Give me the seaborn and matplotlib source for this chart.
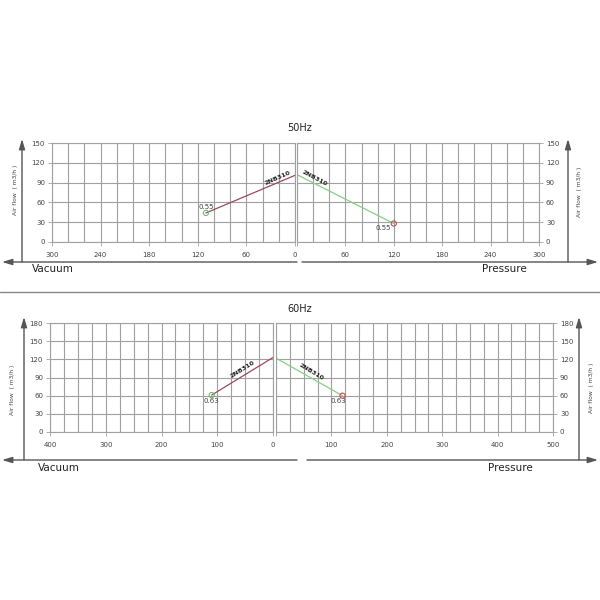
import matplotlib
matplotlib.use("Agg")
import matplotlib.pyplot as plt
import seaborn as sns
import pandas as pd
import numpy as np

# ---------------- data ----------------
model = "2NB310"
hz50_vac_x = [0, 110]
hz50_vac_y = [101, 44]
hz50_pre_x = [0, 120]
hz50_pre_y = [102, 28]
hz50_kw = "0.55"

hz60_vac_x = [0, 110]
hz60_vac_y = [123, 61]
hz60_pre_x = [0, 120]
hz60_pre_y = [122, 60]
hz60_kw = "0.63"

sns.set_theme(style="white")
plt.rcParams['font.family'] = ['DejaVu Sans']

W = H = 600
fig = plt.figure(figsize=(6, 6), dpi=100)

def frac(x0, y0, x1, y1):
    return [x0 / W, 1 - y1 / H, (x1 - x0) / W, (y1 - y0) / H]

GRID = "#a0a0a0"
TXT = "#444444"
VAC_LINE = "#9b4a5a"
PRE_LINE = "#86cf86"

def style_axes(ax, xmax, xstep, xtick_step, ymax, ystep, side, hide_zero):
    ax.set_xlim(xmax, 0) if side == "left" else ax.set_xlim(0, xmax)
    ax.set_ylim(0, ymax)
    ax.set_xticks(np.arange(0, xmax + 1, xstep), minor=True)
    major = list(np.arange(0, xmax + 1, xtick_step))
    ax.set_xticks(major)
    labels = [str(int(v)) for v in major]
    if hide_zero:
        labels[0] = ""
    ax.set_xticklabels(labels)
    ax.set_yticks(np.arange(0, ymax + 1, ystep))
    ax.grid(True, which="both", axis="x", color=GRID, lw=0.8)
    ax.grid(True, which="major", axis="y", color=GRID, lw=0.8)
    for s in ax.spines.values():
        s.set_color(GRID)
        s.set_linewidth(0.8)
    ax.tick_params(axis="both", labelsize=5, colors=TXT, length=3, width=0.6, pad=2,
                   color=GRID)
    ax.tick_params(axis="x", which="minor", length=0)
    ax.tick_params(axis="x", pad=4)
    if side == "right":
        ax.yaxis.tick_right()
    else:
        ax.yaxis.tick_left()
    ax.tick_params(axis="x", bottom=True)

def draw_curve(ax, xs, ys, line_color, mk_color, kw, kw_offset, kw_ha, kw_va,
               lab_pos, lab_rot):
    df = pd.DataFrame({"x": xs, "y": ys})
    sns.lineplot(data=df, x="x", y="y", ax=ax, color=line_color, lw=0.9,
                 sort=False, estimator=None)
    sns.scatterplot(x=[xs[-1]], y=[ys[-1]], ax=ax, s=14, facecolor="none",
                    edgecolor=mk_color, linewidth=0.8, zorder=5)
    ax.annotate(kw, (xs[-1], ys[-1]), xytext=kw_offset, textcoords="offset points",
                ha=kw_ha, va=kw_va, fontsize=5, color=TXT)
    ax.text(lab_pos[0], lab_pos[1], model, fontsize=4.6, fontweight="bold",
            color="#222222", rotation=lab_rot, rotation_mode="anchor",
            ha="center", va="center")
    ax.set_xlabel("")
    ax.set_ylabel("")

# ---- 50Hz ----
ax1 = fig.add_axes(frac(52, 143, 295, 242))
style_axes(ax1, 300, 20, 60, 150, 30, "left", False)
draw_curve(ax1, hz50_vac_x, hz50_vac_y, VAC_LINE, "#6cbf6c", hz50_kw,
           (0, 2), "center", "bottom", (22, 97), 24)

ax2 = fig.add_axes(frac(297, 143, 539, 242))
style_axes(ax2, 300, 20, 60, 150, 30, "right", True)
draw_curve(ax2, hz50_pre_x, hz50_pre_y, PRE_LINE, "#c05050", hz50_kw,
           (-2, -1), "right", "top", (22, 97), -28)

# ---- 60Hz ----
ax3 = fig.add_axes(frac(50, 323, 273, 432))
style_axes(ax3, 400, 25, 100, 180, 30, "left", False)
draw_curve(ax3, hz60_vac_x, hz60_vac_y, VAC_LINE, "#6cbf6c", hz60_kw,
           (0, -2), "center", "top", (54, 104), 32)

ax4 = fig.add_axes(frac(276, 323, 553, 432))
style_axes(ax4, 500, 25, 100, 180, 30, "right", True)
draw_curve(ax4, hz60_pre_x, hz60_pre_y, PRE_LINE, "#c05050", hz60_kw,
           (-3, -2), "center", "top", (64, 99), -31)

# ---- overlay for arrows / texts ----
ov = fig.add_axes([0, 0, 1, 1], zorder=-1)
ov.set_xlim(0, W)
ov.set_ylim(H, 0)
ov.axis("off")

AR = "#555555"
def arrow(x0, y0, x1, y1):
    ov.annotate("", xy=(x1, y1), xytext=(x0, y0),
                arrowprops=dict(arrowstyle="-|>,head_length=0.5,head_width=0.15",
                                color=AR, lw=1.0, shrinkA=0, shrinkB=0))

# top
arrow(297, 262, 2, 262)
arrow(302, 262, 598, 262)
arrow(22, 262, 22, 139)
arrow(568, 262, 568, 139)
# bottom
arrow(297, 460, 2, 460)
arrow(307, 460, 598, 460)
arrow(24, 460, 24, 317)
arrow(579, 460, 579, 317)

ov.plot([0, 600], [292, 292], color="#888888", lw=1.0)

ov.text(300, 128, "50Hz", ha="center", va="center", fontsize=7, color="#222222")
ov.text(300, 309, "60Hz", ha="center", va="center", fontsize=7, color="#222222")

for (x, y) in [(32, 269), (38, 468)]:
    ov.text(x, y, "Vacuum", ha="left", va="center", fontsize=7.5, color="#222222")
for (x, y) in [(482, 269), (488, 468)]:
    ov.text(x, y, "Pressure", ha="left", va="center", fontsize=7.5, color="#222222")

ylab = "Air flow  ( m3/h )"
for (x, y) in [(16, 190), (580, 192), (13, 390), (591, 388)]:
    ov.text(x, y, ylab, ha="center", va="center", rotation=90, fontsize=4.3,
            color=TXT)

fig.savefig("out.png", dpi=100)
